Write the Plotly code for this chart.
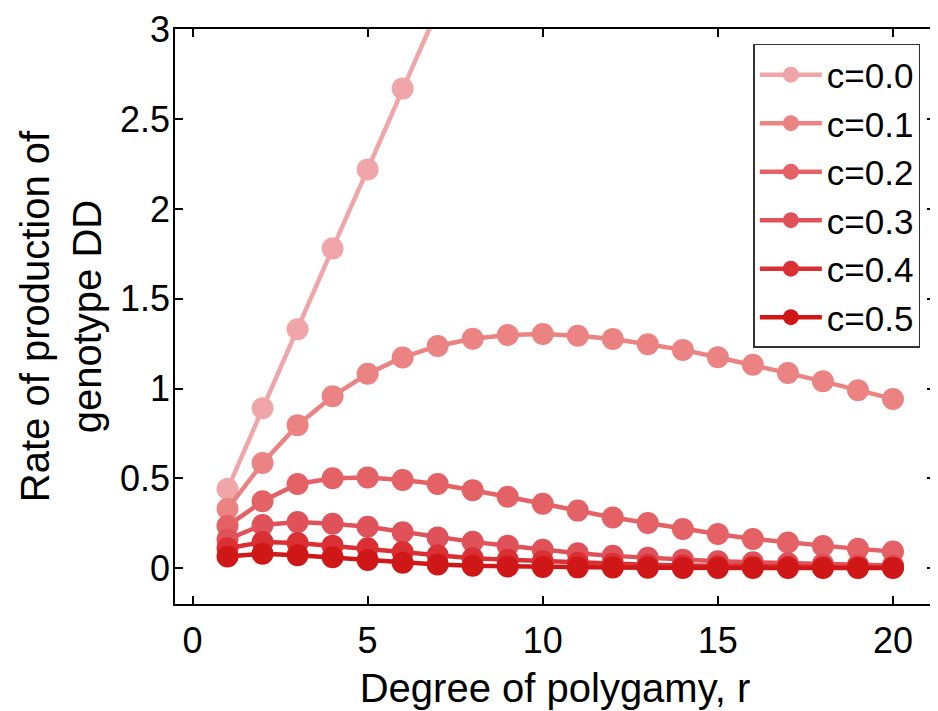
import plotly.graph_objects as go

r_values = list(range(1, 21))

c_labels = ["c=0.0", "c=0.1", "c=0.2", "c=0.3", "c=0.4", "c=0.5"]
colors = ["#F0A5A8", "#EB8383", "#E46266", "#E0525A", "#DA3034", "#D01717"]

c00 = [0.44, 0.89, 1.33, 1.78, 2.22, 2.67, 3.11, 3.56, 4.00, 4.44,
       4.89, 5.33, 5.78, 6.22, 6.67, 7.11, 7.56, 8.00, 8.44, 8.89]
c01 = [0.33, 0.585, 0.796, 0.957, 1.082, 1.173, 1.237, 1.277, 1.298, 1.304,
       1.294, 1.276, 1.246, 1.215, 1.174, 1.132, 1.086, 1.04, 0.99, 0.942]
c02 = [0.235, 0.372, 0.468, 0.50, 0.505, 0.49, 0.468, 0.434, 0.397, 0.358,
       0.32, 0.282, 0.251, 0.218, 0.19, 0.162, 0.143, 0.123, 0.107, 0.092]
c03 = [0.16, 0.24, 0.256, 0.247, 0.23, 0.2, 0.17, 0.146, 0.125, 0.102,
       0.082, 0.068, 0.057, 0.047, 0.038, 0.032, 0.027, 0.022, 0.018, 0.015]
c04 = [0.11, 0.145, 0.14, 0.125, 0.11, 0.09, 0.072, 0.055, 0.046, 0.038,
       0.03, 0.024, 0.019, 0.015, 0.012, 0.009, 0.007, 0.005, 0.004, 0.003]
c05 = [0.065, 0.08, 0.072, 0.06, 0.045, 0.03, 0.02, 0.013, 0.009, 0.006,
       0.004, 0.003, 0.002, 0.001, 0.001, 0.0, 0.0, 0.0, 0.0, 0.0]

series = [c00, c01, c02, c03, c04, c05]

x_ticks = [0, 5, 10, 15, 20]
y_ticks = [0, 0.5, 1, 1.5, 2, 2.5, 3]
y_tick_labels = ["0", "0.5", "1", "1.5", "2", "2.5", "3"]

FONT = "Liberation Sans, Arial, sans-serif"

fig = go.Figure()
for name, vals, col in zip(c_labels, series, colors):
    fig.add_trace(go.Scatter(
        x=r_values, y=vals, name=name, mode="lines+markers",
        line=dict(color=col, width=4.5),
        marker=dict(color=col, size=22),
    ))

fig.update_layout(
    width=930, height=703,
    margin=dict(l=167, r=1, t=17, b=107),
    paper_bgcolor="white", plot_bgcolor="white",
    font=dict(family=FONT, color="black", size=36),
    showlegend=True,
    legend=dict(
        x=0.761, y=0.974, xanchor="left", yanchor="top",
        bgcolor="white", bordercolor="#333333", borderwidth=1.5,
        font=dict(family=FONT, size=35, color="black"),
        itemwidth=62,
    ),
    xaxis=dict(
        range=[-0.5, 21.2], tickvals=x_ticks, ticktext=[str(v) for v in x_ticks],
        ticks="inside", ticklen=8, tickwidth=1.5, tickcolor="black",
        showline=True, linecolor="black", linewidth=1.5, mirror="ticks",
        showgrid=False, zeroline=False, ticklabeloverflow="allow",
        tickfont=dict(family=FONT, size=36), ticklabelstandoff=4,
        title=dict(text="Degree of polygamy, r", font=dict(family=FONT, size=40), standoff=14),
    ),
    yaxis=dict(
        range=[-0.2, 3.002], tickvals=y_ticks, ticktext=y_tick_labels,
        ticks="inside", ticklen=8, tickwidth=1.5, tickcolor="black",
        showline=True, linecolor="black", linewidth=1.5, mirror="ticks",
        showgrid=False, zeroline=False, ticklabeloverflow="allow",
        tickfont=dict(family=FONT, size=36), ticklabelstandoff=-4,
        title=dict(text="Rate of production of<br>genotype DD", font=dict(family=FONT, size=40), standoff=6),
    ),
)

fig.write_html("out.html")
